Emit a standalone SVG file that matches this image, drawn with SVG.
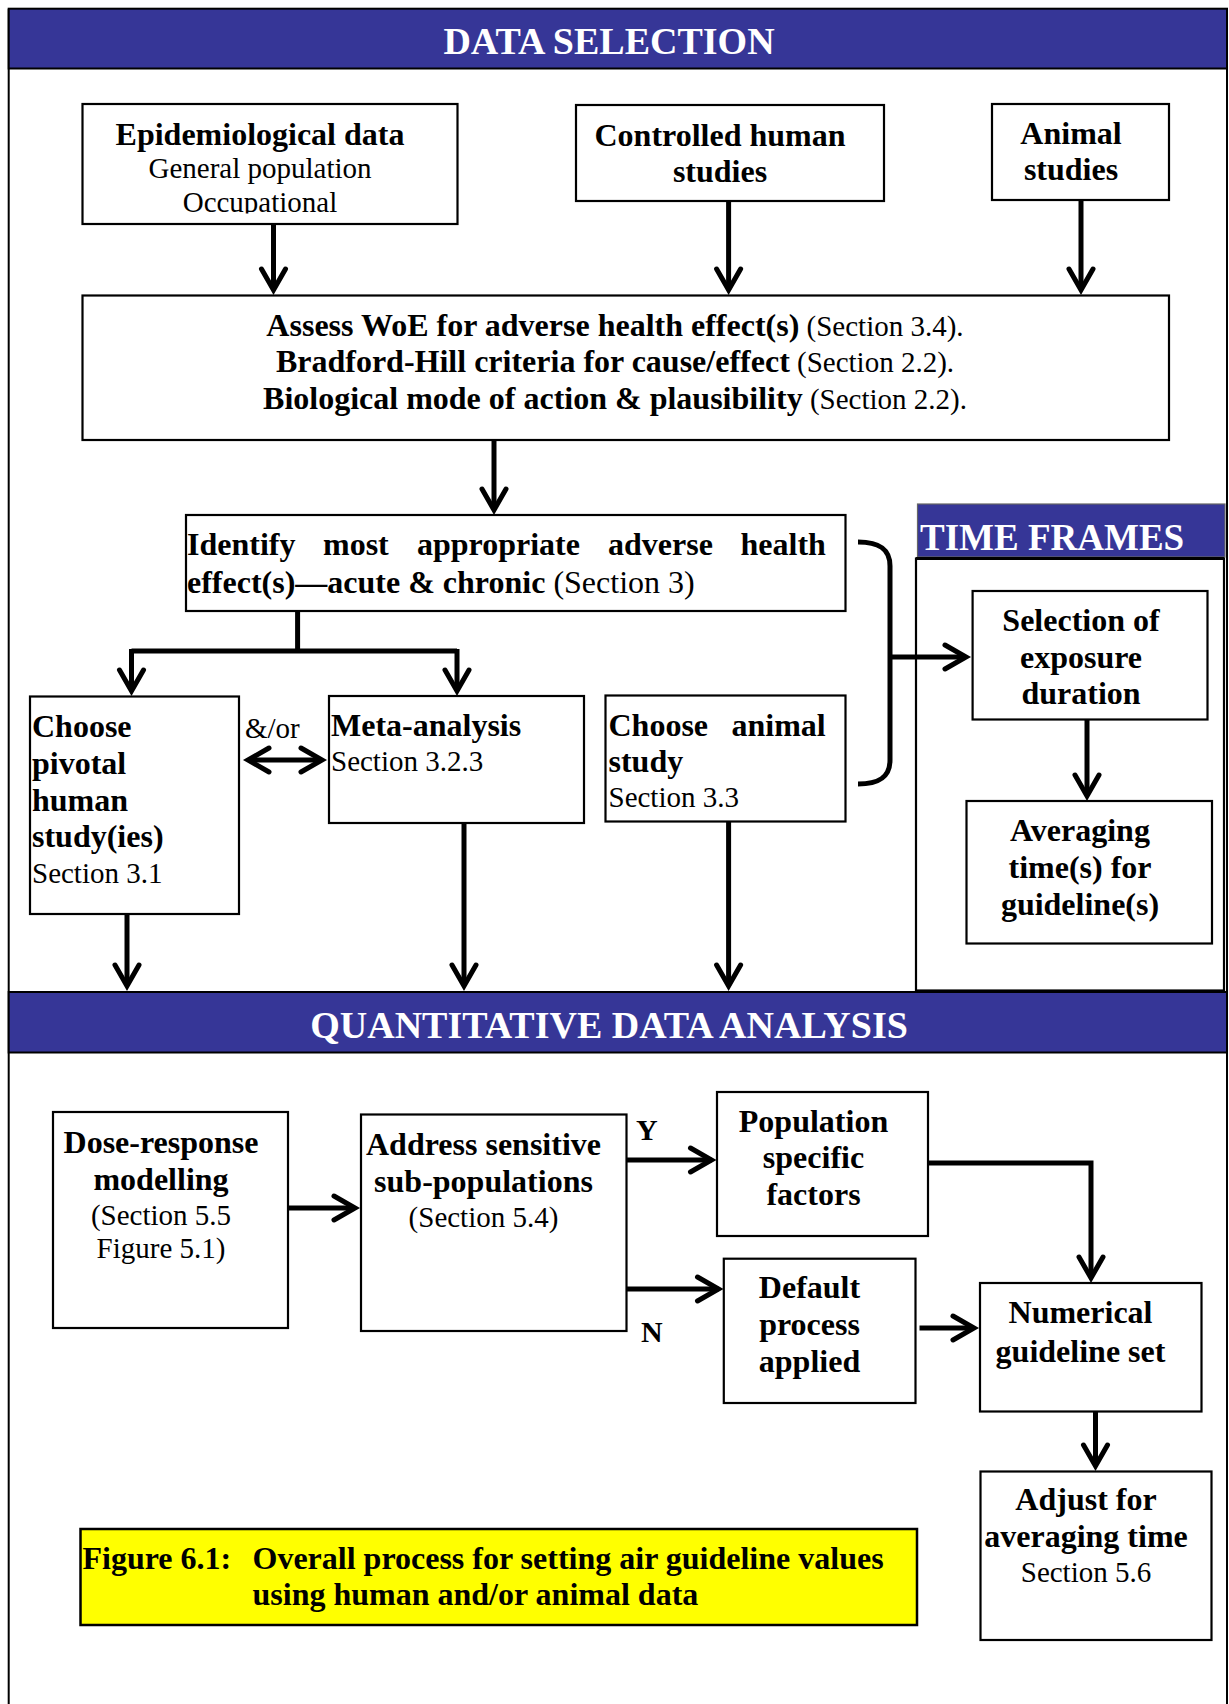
<svg xmlns="http://www.w3.org/2000/svg" width="1229" height="1704" viewBox="0 0 1229 1704">
  <style>
    .box { fill: #fff; stroke: #000; stroke-width: 2.2; }
    .band { fill: #363697; stroke: #000; stroke-width: 2; }
    .t { font-family: "Liberation Serif", "Times New Roman", serif; fill: #000; }
    .b { font-weight: bold; font-size: 32px; }
    .r { font-weight: normal; font-size: 29px; }
    .hd { font-family: "Liberation Serif", "Times New Roman", serif; font-weight: bold; font-size: 38px; fill: #fff; }
    .c { text-anchor: middle; }
    .conn { fill: none; stroke: #000; stroke-width: 5; }
    .arr { marker-end: url(#ah); }
  </style>
  <defs>
    <marker id="ah" markerUnits="userSpaceOnUse" markerWidth="60" markerHeight="60" viewBox="-30 -30 60 60" refX="0" refY="0" orient="auto-start-reverse" overflow="visible">
      <path d="M-21,-12 L0,0 L-21,12" fill="none" stroke="#000" stroke-width="5" stroke-linecap="round" stroke-linejoin="miter"/>
    </marker>
    <clipPath id="epiClip">
      <rect x="80" y="100" width="380" height="113.5"/>
    </clipPath>
  </defs>

  <rect width="1229" height="1704" fill="#fff"/>

  <!-- outer frame -->
  <g id="frame">
    <line x1="8.7" y1="8.7" x2="8.7" y2="1704" stroke="#000" stroke-width="2"/>
    <line x1="1227" y1="8.7" x2="1227" y2="1704" stroke="#000" stroke-width="2"/>
  </g>

  <!-- section headers -->
  <g id="hdr-data-selection">
    <rect class="band" x="8.7" y="8.7" width="1218.3" height="59.8"/>
    <text class="hd c" x="609" y="53.5">DATA SELECTION</text>
  </g>

  <g id="hdr-time-frames">
    <rect x="917.5" y="504" width="307.5" height="53" fill="#363697" stroke="#666" stroke-width="1.2"/>
    <rect class="box" x="916" y="558.5" width="308" height="432" style="fill:none"/>
    <line x1="916" y1="558.5" x2="1224" y2="558.5" stroke="#000" stroke-width="3"/>
    <text class="hd" x="920" y="550" style="font-size:37px">TIME FRAMES</text>
  </g>

  <g id="hdr-quant">
    <rect class="band" x="8.7" y="992" width="1218.3" height="60.5"/>
    <text class="hd c" x="609" y="1038">QUANTITATIVE DATA ANALYSIS</text>
  </g>

  <!-- data selection nodes -->
  <g id="n-epi">
    <rect class="box" x="82.5" y="104" width="375" height="120"/>
    <text class="t b c" x="260" y="145">Epidemiological data</text>
    <g clip-path="url(#epiClip)">
      <text class="t r c" x="260" y="178">General population</text>
      <text class="t r c" x="260" y="212">Occupational</text>
    </g>
  </g>

  <g id="n-controlled">
    <rect class="box" x="576" y="105" width="308" height="96"/>
    <text class="t b c" x="720" y="145.5">Controlled human</text>
    <text class="t b c" x="720" y="181.5">studies</text>
  </g>

  <g id="n-animal">
    <rect class="box" x="992" y="104" width="177" height="96"/>
    <text class="t b c" x="1071" y="144">Animal</text>
    <text class="t b c" x="1071" y="180">studies</text>
  </g>

  <g id="n-woe">
    <rect class="box" x="82.5" y="295.5" width="1086.5" height="144.5"/>
    <text class="t c" x="615" y="335.5"><tspan class="b">Assess WoE for adverse health effect(s)</tspan><tspan class="r"> (Section 3.4).</tspan></text>
    <text class="t c" x="615" y="372"><tspan class="b">Bradford-Hill criteria for cause/effect</tspan><tspan class="r"> (Section 2.2).</tspan></text>
    <text class="t c" x="615" y="408.5"><tspan class="b">Biological mode of action &amp; plausibility</tspan><tspan class="r"> (Section 2.2).</tspan></text>
  </g>

  <g id="n-identify">
    <rect class="box" x="186" y="515" width="659.5" height="96"/>
    <text class="t b" y="554.5"><tspan x="187">Identify</tspan><tspan x="323">most</tspan><tspan x="417">appropriate</tspan><tspan x="608">adverse</tspan><tspan x="740.5">health</tspan></text>
    <text class="t b" x="187" y="592.5">effect(s)—acute &amp; chronic<tspan font-weight="normal"> (Section 3)</tspan></text>
  </g>

  <g id="n-pivotal">
    <rect class="box" x="30" y="696.5" width="209" height="217.5"/>
    <text class="t b" x="32" y="737">Choose</text>
    <text class="t b" x="32" y="774">pivotal</text>
    <text class="t b" x="32" y="811">human</text>
    <text class="t b" x="32" y="847">study(ies)</text>
    <text class="t r" x="32" y="882.5">Section 3.1</text>
  </g>

  <g id="n-meta">
    <rect class="box" x="329" y="696" width="255" height="127"/>
    <text class="t b" x="331" y="736">Meta-analysis</text>
    <text class="t r" x="331" y="771">Section 3.2.3</text>
  </g>

  <g id="n-animal-study">
    <rect class="box" x="605.5" y="695.5" width="240" height="126"/>
    <text class="t b" y="736"><tspan x="608.5">Choose</tspan><tspan x="731.5">animal</tspan></text>
    <text class="t b" x="608.5" y="772">study</text>
    <text class="t r" x="608.5" y="806.5">Section 3.3</text>
  </g>

  <g id="n-exposure">
    <rect class="box" x="972.6" y="591" width="234.9" height="128.5"/>
    <text class="t b c" x="1081" y="631">Selection of</text>
    <text class="t b c" x="1081" y="667.5">exposure</text>
    <text class="t b c" x="1081" y="704">duration</text>
  </g>

  <g id="n-averaging">
    <rect class="box" x="966.5" y="801" width="245.5" height="142.5"/>
    <text class="t b c" x="1080" y="841">Averaging</text>
    <text class="t b c" x="1080" y="878">time(s) for</text>
    <text class="t b c" x="1080" y="914.5">guideline(s)</text>
  </g>

  <!-- quantitative analysis nodes -->
  <g id="n-dose">
    <rect class="box" x="53" y="1112" width="235" height="216"/>
    <text class="t b c" x="161" y="1153">Dose-response</text>
    <text class="t b c" x="161" y="1190">modelling</text>
    <text class="t r c" x="161" y="1225">(Section 5.5</text>
    <text class="t r c" x="161" y="1258">Figure 5.1)</text>
  </g>

  <g id="n-address">
    <rect class="box" x="361" y="1114.5" width="265.5" height="216.5"/>
    <text class="t b c" x="483.5" y="1155">Address sensitive</text>
    <text class="t b c" x="483.5" y="1191.5">sub-populations</text>
    <text class="t r c" x="483.5" y="1226.5">(Section 5.4)</text>
  </g>

  <g id="n-population">
    <rect class="box" x="717" y="1092" width="211" height="144"/>
    <text class="t b c" x="813.5" y="1131.5">Population</text>
    <text class="t b c" x="813.5" y="1168">specific</text>
    <text class="t b c" x="813.5" y="1205">factors</text>
  </g>

  <g id="n-default">
    <rect class="box" x="723.8" y="1258.7" width="191.7" height="144.3"/>
    <text class="t b c" x="809.5" y="1297.5">Default</text>
    <text class="t b c" x="809.5" y="1335">process</text>
    <text class="t b c" x="809.5" y="1371.5">applied</text>
  </g>

  <g id="n-numerical">
    <rect class="box" x="980" y="1283" width="221.5" height="128.5"/>
    <text class="t b c" x="1080.5" y="1323">Numerical</text>
    <text class="t b c" x="1080.5" y="1361.5">guideline set</text>
  </g>

  <g id="n-adjust">
    <rect class="box" x="980.5" y="1471.5" width="231" height="168.5"/>
    <text class="t b c" x="1086" y="1510">Adjust for</text>
    <text class="t b c" x="1086" y="1546.5">averaging time</text>
    <text class="t r c" x="1086" y="1581.5">Section 5.6</text>
  </g>

  <g id="caption">
    <rect x="80.5" y="1529" width="836.5" height="96" fill="#ffff00" stroke="#000" stroke-width="2.5"/>
    <text class="t b" x="82.5" y="1568.5">Figure 6.1:</text>
    <text class="t b" x="252.5" y="1568.5">Overall process for setting air guideline values</text>
    <text class="t b" x="252.5" y="1605">using human and/or animal data</text>
  </g>

  <!-- connectors -->
  <g id="connectors">
    <line class="conn arr" x1="273.5" y1="224" x2="273.5" y2="290"/>
    <line class="conn arr" x1="728.6" y1="201" x2="728.6" y2="290"/>
    <line class="conn arr" x1="1081" y1="200" x2="1081" y2="290"/>
    <line class="conn arr" x1="494" y1="440" x2="494" y2="510"/>

    <path class="conn" d="M297.6,611 V651 M131.5,651 H457"/>
    <line class="conn arr" x1="131.5" y1="649" x2="131.5" y2="691"/>
    <line class="conn arr" x1="457" y1="649" x2="457" y2="691"/>

    <line class="conn" x1="248" y1="760" x2="322" y2="760" marker-start="url(#ah)" marker-end="url(#ah)"/>
    <text class="t r" x="245" y="738">&amp;/or</text>

    <line class="conn arr" x1="127" y1="914" x2="127" y2="986"/>
    <line class="conn arr" x1="464" y1="823" x2="464" y2="986"/>
    <line class="conn arr" x1="728.6" y1="821.5" x2="728.6" y2="986"/>

    <path class="conn" d="M858,542 C878,542 890,548 890,566 L890,760 C890,778 878,784 858,784"/>
    <line class="conn arr" x1="890" y1="657" x2="966" y2="657"/>
    <line class="conn arr" x1="1087" y1="719.5" x2="1087" y2="796"/>

    <line class="conn arr" x1="288" y1="1208" x2="355" y2="1208"/>
    <line class="conn arr" x1="626.5" y1="1160" x2="711.5" y2="1160"/>
    <line class="conn arr" x1="626.5" y1="1289" x2="718.5" y2="1289"/>
    <text class="t" x="636" y="1140" font-weight="bold" font-size="30">Y</text>
    <text class="t" x="641" y="1341.5" font-weight="bold" font-size="30">N</text>
    <path class="conn arr" d="M928,1163 H1091 V1278"/>
    <line class="conn arr" x1="919.5" y1="1328" x2="974" y2="1328"/>
    <line class="conn arr" x1="1095.5" y1="1411.5" x2="1095.5" y2="1466"/>
  </g>
</svg>
